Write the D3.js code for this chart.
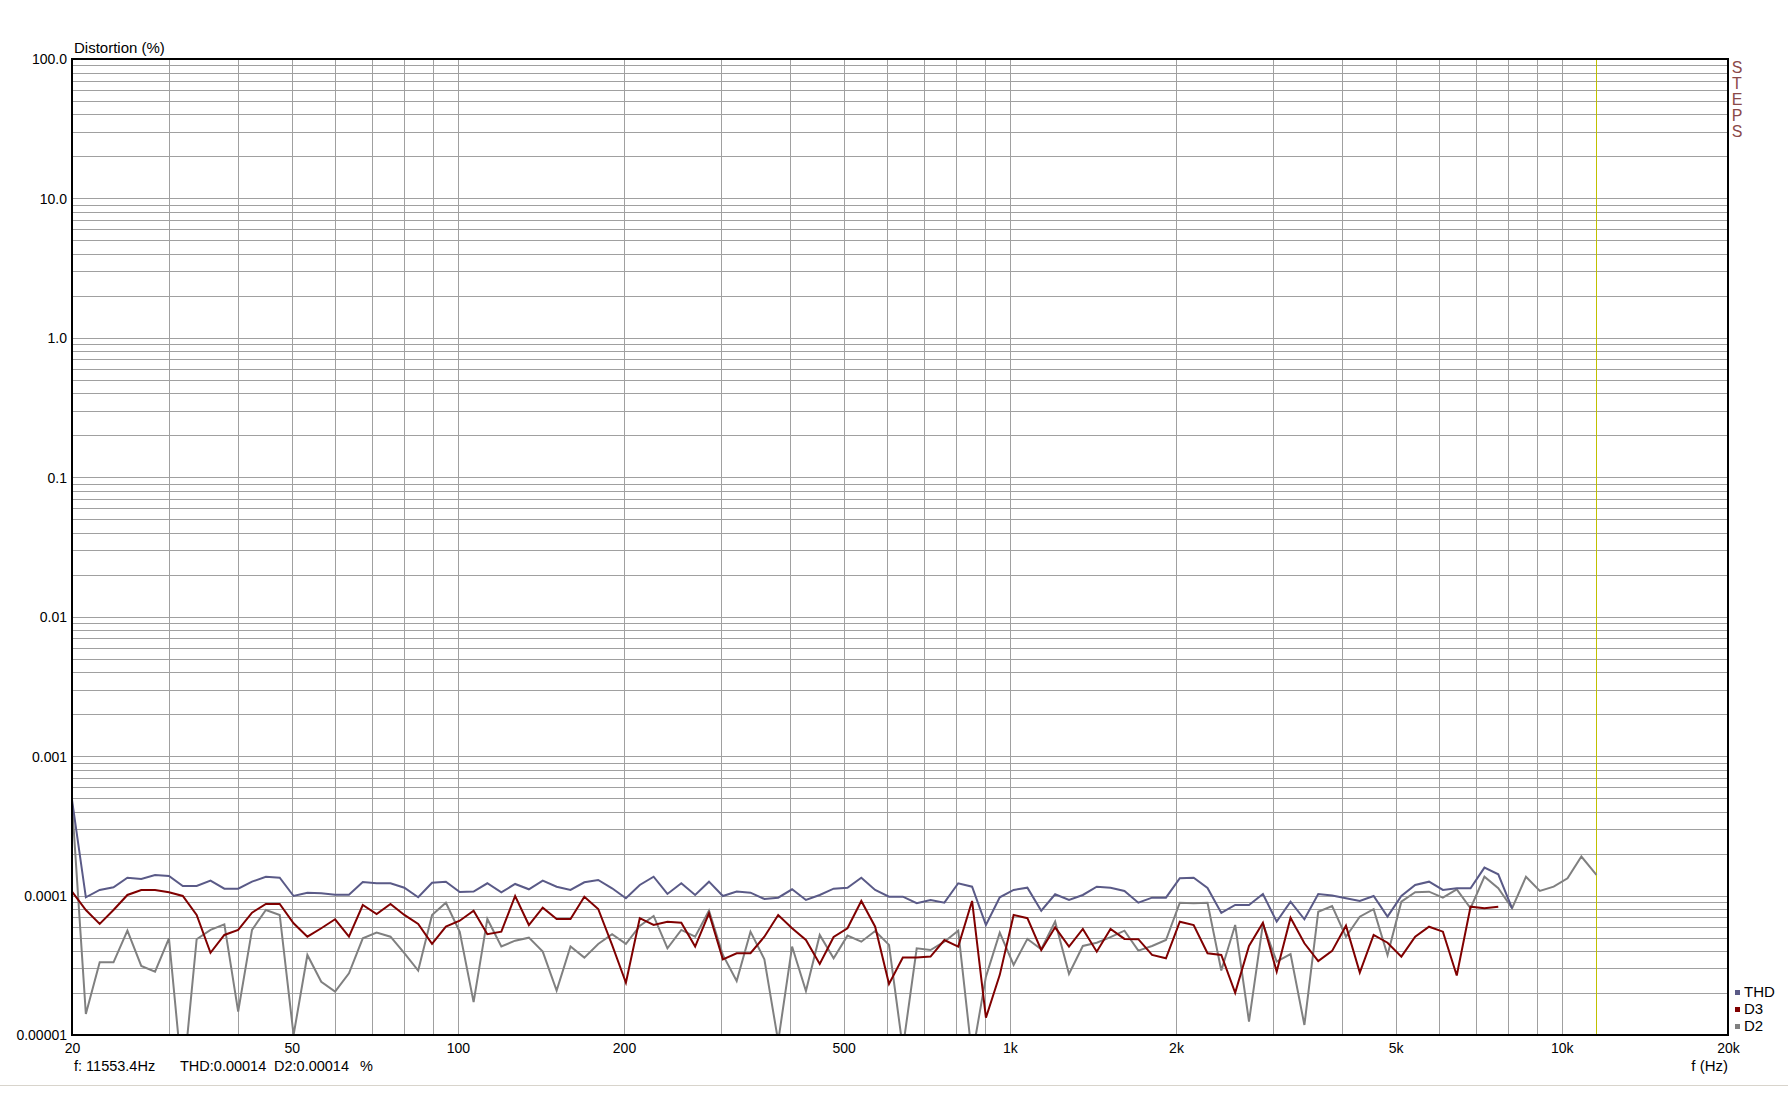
<!DOCTYPE html>
<html>
<head>
<meta charset="utf-8">
<script src="https://cdn.jsdelivr.net/npm/d3@7"></script>
<style>
  html, body { margin: 0; padding: 0; background: #ffffff; }
  svg { display: block; }
  text { font-family: "Liberation Sans", Arial, sans-serif; font-size: 14px; fill: #000; }
</style>
</head>
<body>
<svg id="chart" width="1788" height="1096"></svg>
<script>
// ---------------- data ----------------
const freqs = [20, 21.19, 22.45, 23.78, 25.2, 26.7, 28.28, 29.97, 31.75, 33.64, 35.64, 37.76,
  40, 42.38, 44.9, 47.57, 50.4, 53.39, 56.57, 59.93, 63.5, 67.27, 71.27, 75.51,
  80, 84.76, 89.8, 95.14, 100.8, 106.8, 113.1, 119.9, 127, 134.5, 142.5, 151,
  160, 169.5, 179.6, 190.3, 201.6, 213.6, 226.3, 239.7, 254, 269.1, 285.1, 302.1,
  320, 339, 359.2, 380.5, 403.2, 427.2, 452.5, 479.5, 508, 538.2, 570.2, 604.1,
  640, 678.1, 718.4, 761.1, 806.3, 854.3, 905.1, 958.9, 1016, 1076, 1140, 1208,
  1280, 1356, 1437, 1522, 1613, 1709, 1810, 1918, 2032, 2153, 2281, 2416,
  2560, 2712, 2874, 3044, 3225, 3417, 3620, 3836, 4064, 4305, 4561, 4833,
  5120, 5424, 5747, 6089, 6451, 6834, 7241, 7671, 8127, 8611, 9123, 9665,
  10240, 10850, 11553.4];

const thd = [4.85e-4, 0.972e-4, 1.097e-4, 1.147e-4, 1.344e-4, 1.316e-4, 1.405e-4, 1.382e-4, 1.172e-4, 1.172e-4,
  1.279e-4, 1.121e-4, 1.121e-4, 1.258e-4, 1.366e-4, 1.344e-4, 0.993e-4, 1.049e-4, 1.039e-4, 1.015e-4,
  1.015e-4, 1.252e-4, 1.225e-4, 1.225e-4, 1.139e-4, 0.972e-4, 1.237e-4, 1.258e-4, 1.06e-4, 1.068e-4,
  1.225e-4, 1.056e-4, 1.211e-4, 1.109e-4, 1.279e-4, 1.158e-4, 1.097e-4, 1.245e-4, 1.294e-4, 1.128e-4,
  0.956e-4, 1.191e-4, 1.366e-4, 1.027e-4, 1.225e-4, 1.01e-4, 1.258e-4, 0.993e-4, 1.068e-4, 1.049e-4,
  0.945e-4, 0.966e-4, 1.109e-4, 0.93e-4, 1.01e-4, 1.12e-4, 1.139e-4, 1.344e-4, 1.097e-4, 0.982e-4,
  0.982e-4, 0.881e-4, 0.93e-4, 0.889e-4, 1.225e-4, 1.158e-4, 0.615e-4, 0.972e-4, 1.097e-4, 1.139e-4,
  0.779e-4, 1.022e-4, 0.93e-4, 1.01e-4, 1.158e-4, 1.139e-4, 1.079e-4, 0.889e-4, 0.966e-4, 0.966e-4,
  1.331e-4, 1.344e-4, 1.135e-4, 0.75e-4, 0.856e-4, 0.856e-4, 1.027e-4, 0.65e-4, 0.904e-4, 0.676e-4,
  1.027e-4, 1.0e-4, 0.956e-4, 0.915e-4, 0.993e-4, 0.706e-4, 0.993e-4, 1.191e-4, 1.258e-4, 1.097e-4,
  1.128e-4, 1.128e-4, 1.586e-4, 1.422e-4, 0.811e-4];

const d3h = [1.066e-4, 0.788e-4, 0.626e-4, 0.788e-4, 1.01e-4, 1.097e-4, 1.097e-4, 1.056e-4, 0.993e-4, 0.726e-4,
  0.389e-4, 0.522e-4, 0.567e-4, 0.754e-4, 0.87e-4, 0.87e-4, 0.633e-4, 0.507e-4, 0.583e-4, 0.676e-4,
  0.507e-4, 0.856e-4, 0.738e-4, 0.87e-4, 0.726e-4, 0.626e-4, 0.45e-4, 0.6e-4, 0.66e-4, 0.779e-4,
  0.528e-4, 0.551e-4, 0.993e-4, 0.615e-4, 0.819e-4, 0.68e-4, 0.68e-4, 0.982e-4, 0.801e-4, 0.443e-4,
  0.237e-4, 0.688e-4, 0.615e-4, 0.65e-4, 0.639e-4, 0.431e-4, 0.746e-4, 0.349e-4, 0.386e-4, 0.386e-4,
  0.507e-4, 0.726e-4, 0.583e-4, 0.48e-4, 0.323e-4, 0.505e-4, 0.583e-4, 0.915e-4, 0.598e-4, 0.232e-4,
  0.359e-4, 0.359e-4, 0.365e-4, 0.48e-4, 0.431e-4, 0.915e-4, 0.133e-4, 0.27e-4, 0.726e-4, 0.688e-4,
  0.407e-4, 0.592e-4, 0.431e-4, 0.576e-4, 0.396e-4, 0.576e-4, 0.489e-4, 0.487e-4, 0.375e-4, 0.355e-4,
  0.65e-4, 0.615e-4, 0.386e-4, 0.375e-4, 0.201e-4, 0.435e-4, 0.639e-4, 0.285e-4, 0.694e-4, 0.455e-4,
  0.339e-4, 0.401e-4, 0.608e-4, 0.28e-4, 0.522e-4, 0.459e-4, 0.365e-4, 0.507e-4, 0.598e-4, 0.551e-4,
  0.267e-4, 0.833e-4, 0.811e-4, 0.833e-4];

const d2h = [4.6e-4, 0.1415e-4, 0.332e-4, 0.332e-4, 0.56e-4, 0.313e-4, 0.285e-4, 0.494e-4, 0.045e-4, 0.486e-4,
  0.567e-4, 0.622e-4, 0.147e-4, 0.567e-4, 0.788e-4, 0.726e-4, 0.1e-4, 0.375e-4, 0.241e-4, 0.205e-4,
  0.277e-4, 0.494e-4, 0.542e-4, 0.507e-4, 0.386e-4, 0.29e-4, 0.726e-4, 0.889e-4, 0.55e-4, 0.172e-4,
  0.68e-4, 0.431e-4, 0.475e-4, 0.499e-4, 0.396e-4, 0.208e-4, 0.431e-4, 0.359e-4, 0.45e-4, 0.528e-4,
  0.45e-4, 0.605e-4, 0.714e-4, 0.419e-4, 0.567e-4, 0.507e-4, 0.779e-4, 0.375e-4, 0.244e-4, 0.551e-4,
  0.349e-4, 0.09e-4, 0.431e-4, 0.207e-4, 0.522e-4, 0.355e-4, 0.516e-4, 0.467e-4, 0.557e-4, 0.443e-4,
  0.08e-4, 0.419e-4, 0.407e-4, 0.467e-4, 0.56e-4, 0.07e-4, 0.262e-4, 0.542e-4, 0.318e-4, 0.489e-4,
  0.412e-4, 0.65e-4, 0.274e-4, 0.435e-4, 0.459e-4, 0.503e-4, 0.56e-4, 0.403e-4, 0.435e-4, 0.48e-4,
  0.889e-4, 0.881e-4, 0.889e-4, 0.29e-4, 0.615e-4, 0.125e-4, 0.626e-4, 0.336e-4, 0.381e-4, 0.118e-4,
  0.766e-4, 0.842e-4, 0.507e-4, 0.706e-4, 0.798e-4, 0.375e-4, 0.904e-4, 1.056e-4, 1.066e-4, 0.966e-4,
  1.109e-4, 0.811e-4, 1.366e-4, 1.128e-4, 0.811e-4, 1.366e-4, 1.079e-4, 1.158e-4, 1.331e-4, 1.905e-4,
  1.405e-4];

const seriesNames = ["THD", "D3", "D2"];
const xTickValues = [20, 50, 100, 200, 500, 1000, 2000, 5000, 10000, 20000];
const xTickLabels = ["20", "50", "100", "200", "500", "1k", "2k", "5k", "10k", "20k"];
const yTickValues = [1e-5, 1e-4, 1e-3, 1e-2, 1e-1, 1, 10, 100];
const yTickLabels = ["0.00001", "0.0001", "0.001", "0.01", "0.1", "1.0", "10.0", "100.0"];
const cursorFreq = 11553.4;
const cursorText = ["f: 11553.4Hz", "THD:0.00014", "D2:0.00014", "%"];

// ---------------- layout ----------------
const L = 72, R = 1728, T = 59, B = 1035;
const colors = { THD: "#5a5a87", D3: "#800000", D2: "#808080" };

const svg = d3.select("#chart");
const x = d3.scaleLog().domain([20, 20000]).range([L, R]);
const y = d3.scaleLog().domain([1e-5, 100]).range([B, T]);

// grid lines
const xGrid = [];
for (let dec = 10; dec <= 10000; dec *= 10)
  for (let m = 1; m <= 9; m++) { const f = m * dec; if (f > 20 && f < 20000) xGrid.push(f); }
const yGrid = [];
for (let dec = 1e-5; dec < 100; dec *= 10)
  for (let m = 1; m <= 9; m++) yGrid.push(m * dec);

const grid = svg.append("g").attr("shape-rendering", "crispEdges");
grid.selectAll("line.vx").data(xGrid).join("line")
  .attr("x1", d => Math.round(x(d)) + 0.5).attr("x2", d => Math.round(x(d)) + 0.5)
  .attr("y1", T).attr("y2", B)
  .attr("stroke", "#a0a0a0").attr("stroke-width", 1);
grid.selectAll("line.hy").data(yGrid).join("line")
  .attr("y1", d => Math.round(y(d)) + 0.5).attr("y2", d => Math.round(y(d)) + 0.5)
  .attr("x1", L).attr("x2", R)
  .attr("stroke", "#a0a0a0").attr("stroke-width", 1);

// cursor line
svg.append("line")
  .attr("x1", Math.round(x(cursorFreq)) + 0.5).attr("x2", Math.round(x(cursorFreq)) + 0.5)
  .attr("y1", T).attr("y2", B)
  .attr("stroke", "#c0c000").attr("stroke-width", 1).attr("shape-rendering", "crispEdges");

// clip
svg.append("clipPath").attr("id", "clip").append("rect")
  .attr("x", L).attr("y", T).attr("width", R - L).attr("height", B - T);

const line = d3.line().x(d => x(d.f)).y(d => y(d.v));
const mk = arr => arr.map((v, i) => ({ f: freqs[i], v }));
const plot = svg.append("g").attr("clip-path", "url(#clip)");
const drawOrder = [["D2", d2h], ["D3", d3h], ["THD", thd]];
drawOrder.forEach(([name, arr]) => {
  plot.append("path").datum(mk(arr)).attr("d", line)
    .attr("fill", "none").attr("stroke", colors[name]).attr("stroke-width", 2)
    .attr("stroke-linejoin", "miter");
});

// frame
svg.append("rect").attr("x", L).attr("y", T).attr("width", R - L).attr("height", B - T)
  .attr("fill", "none").attr("stroke", "#000").attr("stroke-width", 2);

// axes
const xAxis = d3.axisBottom(x).tickValues(xTickValues)
  .tickFormat((d, i) => xTickLabels[i]).tickSize(0);
const gx = svg.append("g").attr("transform", `translate(0,${B})`).call(xAxis);
gx.select(".domain").remove();
gx.selectAll("text").attr("y", 18).attr("dy", null)
  .style("font-family", '"Liberation Sans", Arial, sans-serif').style("font-size", "14px").attr("fill", "#000");

const yAxis = d3.axisLeft(y).tickValues(yTickValues)
  .tickFormat((d, i) => yTickLabels[i]).tickSize(0);
const gy = svg.append("g").attr("transform", `translate(${L},0)`).call(yAxis);
gy.select(".domain").remove();
gy.selectAll("text").attr("x", -5).attr("dy", "0.35em")
  .style("font-family", '"Liberation Sans", Arial, sans-serif').style("font-size", "14px").attr("fill", "#000");

// titles
svg.append("text").attr("x", 74).attr("y", 53).style("font-size", "15px").text("Distortion (%)");
svg.append("text").attr("x", 1728).attr("y", 1071).attr("text-anchor", "end").style("font-size", "15px").text("f (Hz)");

// cursor readout
const readX = [74, 180, 274, 360];
cursorText.forEach((t, i) => svg.append("text").attr("x", readX[i]).attr("y", 1071).style("font-size", "14.5px").text(t));

// STEPS vertical label
"STEPS".split("").forEach((c, i) => {
  svg.append("text").attr("x", 1737).attr("y", 73 + i * 15.9).attr("text-anchor", "middle")
    .style("font-size", "16px").style("fill", "#8a4848").text(c);
});

// legend
seriesNames.forEach((n, i) => {
  const cy = 992 + i * 17;
  svg.append("rect").attr("x", 1735).attr("y", cy - 2).attr("width", 5).attr("height", 5)
    .attr("fill", colors[n]);
  svg.append("text").attr("x", 1744).attr("y", cy + 5).style("font-size", "15px").text(n);
});

// bottom separator
svg.append("line").attr("x1", 0).attr("x2", 1788).attr("y1", 1085.5).attr("y2", 1085.5)
  .attr("stroke", "#d8d4cc").attr("stroke-width", 1);
</script>
</body>
</html>
